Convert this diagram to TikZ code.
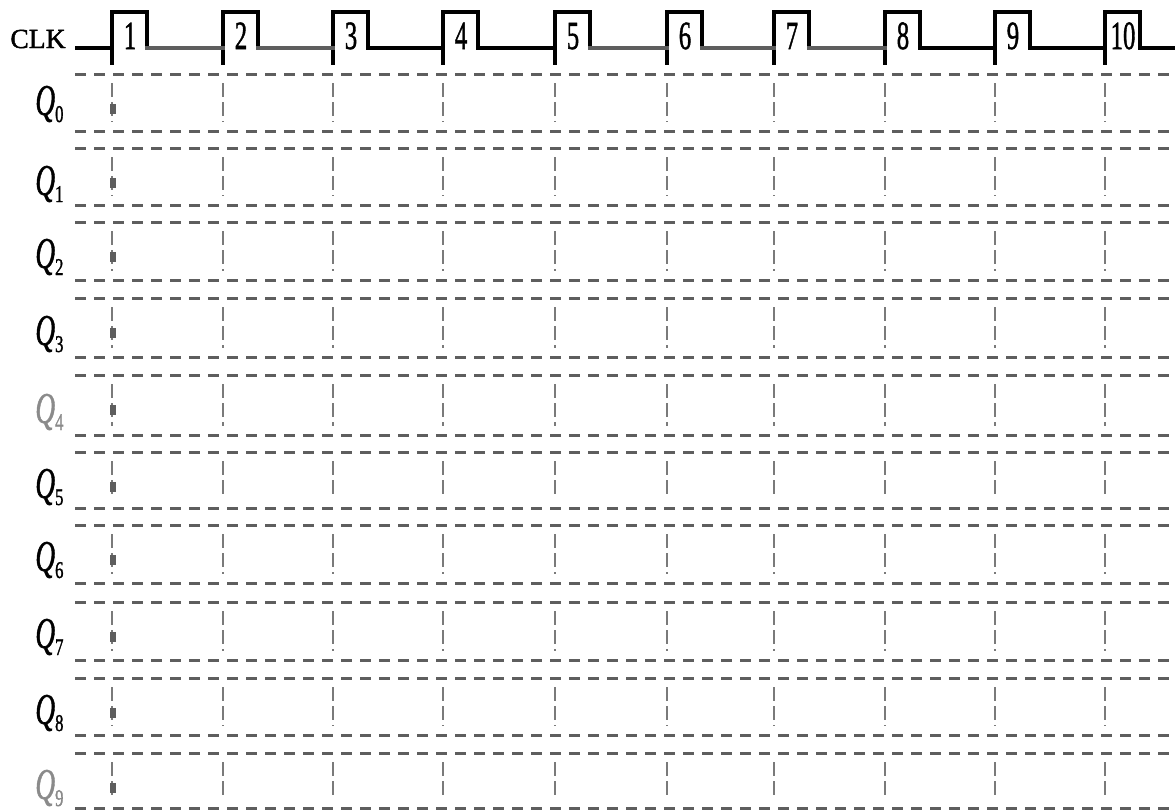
\documentclass[tikz,border=0pt]{standalone}
\usepackage{fontspec}
\setmainfont{Liberation Serif}
\newfontfamily\heavyserif[FakeBold=1.5]{Liberation Serif}
\usepackage{graphicx}
\newcommand{\qlab}[1]{\scalebox{0.62}[1]{\fontsize{22}{22}\selectfont\heavyserif\itshape Q}\raisebox{-3.5pt}{\scalebox{0.7}[1]{\fontsize{12}{12}\selectfont\heavyserif #1}}}
\newcommand{\pnum}[1]{\scalebox{0.62}[1]{\fontsize{20}{20}\selectfont\heavyserif #1}}
\definecolor{dgray}{HTML}{5e5e5e}
\definecolor{lgray}{HTML}{7a7a7a}
\definecolor{qgray}{HTML}{8a8a8a}
\tikzset{
  hdash/.style={dgray, line width=1.5pt, dash pattern=on 5.5pt off 4pt},
  vdash/.style={lgray, line width=0.9pt, dash pattern=on 7pt off 2.5pt},
  clkline/.style={line width=2pt, line cap=rect},
  lbl/.style={inner sep=0pt, anchor=base west},
  numlbl/.style={inner sep=0pt, anchor=base}
}
\begin{document}
\begin{tikzpicture}[x=0.5pt,y=-0.5pt]
\useasboundingbox (0,0) rectangle (1175,811);
% CLK label
\node[lbl, font=\fontsize{13.8}{14}\selectfont\heavyserif] (clk) at (10,48) {CLK};
% clock waveform
\draw[clkline] (77,48) -- (112,48);
\foreach \r/\n in {112/1, 223/2, 333/3, 443/4, 555/5, 667/6, 774/7, 885/8, 995/9, 1105/10}{
  \draw[clkline] (\r,63) -- (\r,12) -- ({\r+35},12) -- ({\r+35},48);
  \node[numlbl] (p\n) at ({\r+18},49) {\pnum{\n}};
}
\draw[clkline,dgray] (147,48) -- (223,48);
\draw[clkline,dgray] (258,48) -- (333,48);
\draw[clkline] (368,48) -- (443,48);
\draw[clkline] (478,48) -- (555,48);
\draw[clkline,dgray] (590,48) -- (667,48);
\draw[clkline,dgray] (702,48) -- (774,48);
\draw[clkline,dgray] (809,48) -- (885,48);
\draw[clkline] (920,48) -- (995,48);
\draw[clkline] (1030,48) -- (1105,48);
\draw[clkline] (1140,48) -- (1175,48);
% rows
\foreach \t/\b/\i/\c/\bl in {74/131/0/black/41, 148/205/1/black/47, 222/280/2/black/46, 298/357/3/black/47, 375/435/4/qgray/48, 452/508/5/black/46, 525/583/6/black/46, 602/660/7/black/46, 678/735/8/black/46, 753/808/9/qgray/46}{
  \draw[hdash] (75,\t) -- (1172,\t);
  \draw[hdash] (75,\b) -- (1172,\b);
  \node[lbl, text=\c] (q\i) at (35,{\t+\bl}) {\qlab{\i}};
  \foreach \x in {112,223,333,443,555,667,774,885,995,1105}{
    \draw[vdash] (\x,{\t+9}) -- (\x,{\b-9});
  }
  \fill[dgray] (110,{\t+30}) rectangle (116,{\t+40});
}
\end{tikzpicture}
\end{document}
